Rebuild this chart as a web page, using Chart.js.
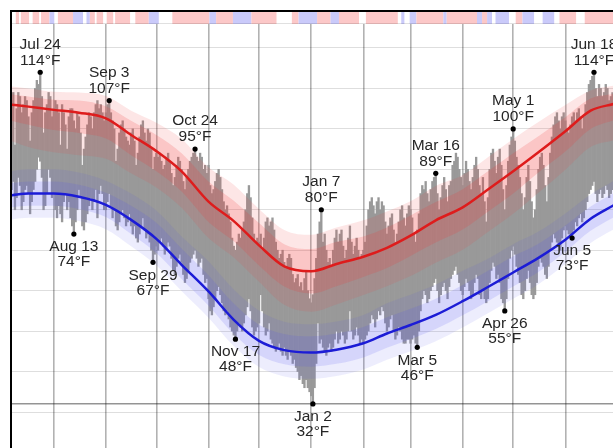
<!DOCTYPE html>
<html>
<head>
<meta charset="utf-8">
<script src="https://cdn.jsdelivr.net/npm/chart.js@4.4.1/dist/chart.umd.min.js"></script>
<style>
  html, body { margin: 0; padding: 0; background: #fff; overflow: hidden; }
  canvas { display: block; }
</style>
</head>
<body>
<canvas id="c" width="613" height="448"></canvas>
<script>
// Day numbers count from Jul 1 (day 0); the observed series starts on Jul 7.
const FIRST_DAY = 6;
const BASE_DATE = [2021, 6, 1];
const monthNames = ['Jan','Feb','Mar','Apr','May','Jun','Jul','Aug','Sep','Oct','Nov','Dec'];

// Daily observed highs (°F), Jul 7 .. Jun 29, one line per month
const dailyHigh = [
  107,109,96,105,109,108,104,106,108,107,103,97,104,107,110,112,111,114,108,99,104,106,109,108,103,
  105,107,106,104,96,106,104,101,95,103,105,105,102,100,104,103,99,91,95,98,101,104,103,100,104,106,107,105,106,104,102,
  104,106,107,104,102,100,92,95,99,101,102,100,98,97,96,99,100,97,91,94,98,101,102,99,97,100,99,95,90,93,
  94,93,94,92,90,91,93,94,92,89,86,88,91,93,92,90,87,85,88,90,92,93,94,95,93,92,94,93,90,91,89,
  91,86,84,85,87,89,90,88,85,82,80,81,79,77,73,71,70,72,74,73,75,77,80,84,86,83,78,74,72,73,
  72,74,70,73,77,78,76,77,78,75,72,70,68,69,70,67,66,68,69,68,64,62,63,64,61,62,60,63,65,60,58,
  57,59,63,68,74,77,80,72,74,70,67,68,66,70,73,75,72,74,75,71,68,70,73,76,72,69,71,73,70,68,69,
  70,72,76,80,82,83,81,79,82,83,80,82,81,77,74,76,78,79,75,72,74,77,80,81,78,76,79,81,
  80,78,74,72,75,79,84,86,85,87,84,82,85,87,88,89,84,80,83,86,88,85,82,86,87,91,92,94,93,90,88,
  86,89,92,90,87,85,88,91,93,90,86,84,88,82,77,83,90,94,95,92,89,93,95,91,85,80,86,92,96,98,
  100,97,93,91,88,84,80,83,88,91,87,82,78,80,85,90,93,94,91,86,82,88,94,98,101,103,104,102,100,103,104,
  102,100,99,101,103,104,102,104,105,103,100,103,106,109,111,112,113,114,110,108,111,110,108,109,111,110,107,108,109
];

// Daily observed lows (°F), same days
const dailyLow = [
  85,87,80,83,88,86,80,82,85,86,84,79,82,85,87,90,93,92,88,80,81,84,90,88,83,
  84,80,78,81,79,77,82,84,80,82,78,76,74,77,80,85,83,76,75,77,79,81,83,80,82,85,78,84,86,84,80,
  80,82,84,81,78,80,76,75,77,79,80,78,76,77,79,76,74,76,73,72,74,76,78,75,73,74,72,70,67,69,
  71,70,72,73,71,69,70,72,71,68,65,64,66,68,69,67,64,62,63,65,67,68,69,70,68,66,67,68,64,62,63,
  58,55,54,56,58,60,61,59,57,55,54,55,53,51,50,49,48,50,52,51,50,52,54,56,58,55,51,49,50,51,
  52,59,55,51,49,50,52,48,47,46,45,46,47,45,44,46,44,43,45,44,42,43,41,40,38,39,37,36,38,36,35,
  34,32,36,42,52,47,48,46,45,44,46,47,45,46,48,50,47,48,50,49,47,48,50,55,50,48,49,51,49,47,48,
  47,48,49,50,52,54,53,51,53,55,54,56,55,52,50,51,53,54,50,48,49,51,50,48,47,47,48,48,
  47,48,49,47,46,50,55,58,60,59,57,58,60,61,62,63,60,57,59,61,62,60,58,61,63,64,65,66,64,62,60,
  59,61,63,62,60,58,59,62,64,63,59,58,60,58,57,58,62,65,67,66,63,64,62,58,57,55,58,63,68,70,
  71,69,66,64,62,59,58,60,63,65,62,59,58,59,62,66,68,67,66,64,63,66,70,72,74,73,72,71,70,73,75,
  76,75,74,74,73,75,77,76,78,79,77,78,80,82,84,85,86,87,84,82,84,85,83,84,86,85,83,84,85
];

// Climate normals, sampled about twice a month
const normDays   = [6,16,31,46,62,77,92,107,123,138,153,168,184,199,215,229,243,258,274,289,304,319,335,350,364];
const highAvg    = [106,105.5,104.7,104,102.6,98.5,94.5,89.5,82,77.2,71.2,66,64.8,66.6,68.4,70.6,73.6,77.4,80.6,85,89.5,94.2,99.4,104.5,106.2];
const highP90    = [110.5,110,109.2,109,108.1,104.5,101.5,97.5,90.5,86.2,80.2,75,73.8,75.6,77.4,79.6,82.1,85.9,88.6,93,97.5,101.7,105.9,109.5,110.7];
const highP75    = [108.5,108,107.2,107,105.6,102,98.5,94,87,82.2,76.7,71.5,70.3,72.1,73.4,75.6,78.6,81.9,85.1,89.5,94,98.2,102.9,107.5,108.7];
const highP25    = [102,101,99.7,99,97.6,93.5,89.5,84.5,77,72.2,66.2,61,59.3,61.1,63.4,65.6,68.6,71.9,75.1,79.5,84,89.2,94.4,100,102.2];
const highP10    = [97,95.5,94.2,93.5,92.6,89,85.5,80.5,73,68.2,62.2,56.5,54.8,56.6,58.9,61.1,63.6,66.9,70.1,74.5,79,84.2,89.9,95.5,97.2];
const lowAvg     = [83.6,84,84,83.2,81.2,77.5,72.8,66.4,59.8,52.8,47.6,45.3,44.7,45.4,47,49.4,51.5,54,57.4,60.9,64.5,68.1,72.6,77.8,81.2];
const lowP90     = [89.6,90,90,89.2,87.2,84,79.8,73.4,67.3,60.3,55.1,52.3,51.7,52.4,54,56.9,59,61.5,64.9,67.9,71.5,74.6,79.1,83.8,87.2];
const lowP75     = [86.6,87,87,86.2,84.2,81,76.8,70.4,63.8,56.8,51.6,49.3,48.7,49.4,51,53.4,55.5,58,61.4,64.9,68.5,71.6,76.1,80.8,84.2];
const lowP25     = [80.6,81,81,80.2,78.2,74,69.3,62.9,56.3,49.3,44.1,41.8,41.2,41.9,43.5,45.9,48,50.5,53.9,57.4,61,64.6,69.6,74.8,78.2];
const lowP10     = [77.6,78,78,77.2,75.2,71,66.3,59.9,53.3,46.3,41.1,38.8,38.2,38.9,40.5,42.9,45,47.5,50.9,54.4,58,61.6,66.6,71.8,75.2];

// Annotated extremes: day number and which end of the daily bar
const markedHighs = [23, 64, 115, 190, 258, 304, 352];
const markedLows  = [43, 90, 139, 185, 247, 299, 339];

// First day of each month (vertical grid) and temperature grid
const monthStarts = [31, 62, 92, 123, 153, 184, 215, 243, 274, 304, 335];
const tempTicks = [30, 40, 50, 60, 70, 80, 90, 100, 110, 120];
const FREEZING = 32;

// Daily anomaly strip: [firstDay, lastDay, 'r' warm | 'b' cool | 'w' near normal]
const stripRuns = [
  [6,8,'w'],[9,10,'r'],[11,11,'w'],[12,16,'r'],[17,18,'w'],[19,22,'r'],[23,23,'w'],[24,28,'r'],
  [29,31,'b'],[32,33,'w'],[34,42,'r'],[43,48,'b'],[49,50,'w'],[51,52,'b'],[53,55,'r'],[56,56,'w'],
  [57,60,'r'],[61,62,'w'],[63,66,'r'],[67,67,'w'],[68,76,'r'],[77,79,'w'],[80,87,'r'],[88,93,'b'],
  [94,101,'w'],[102,123,'r'],[124,127,'b'],[128,137,'r'],[138,148,'b'],[149,163,'r'],[164,172,'w'],
  [173,176,'r'],[177,187,'b'],[188,195,'r'],[196,200,'b'],[201,212,'r'],[213,216,'w'],[217,235,'r'],
  [236,237,'w'],[238,239,'b'],[240,242,'w'],[243,246,'b'],[247,262,'r'],[263,264,'b'],[265,282,'r'],
  [283,285,'b'],[286,288,'r'],[289,291,'b'],[292,293,'w'],[294,301,'b'],[302,305,'w'],[306,309,'r'],
  [310,316,'b'],[317,321,'w'],[322,328,'b'],[329,331,'w'],[332,341,'r'],[342,346,'w'],[347,363,'r']
];

const stripColors = { r: '#fcc8c8', b: '#cacafa', w: '#ffffff' };

function dayLabel(d) {
  const dt = new Date(BASE_DATE[0], BASE_DATE[1], BASE_DATE[2] + d);
  return monthNames[dt.getMonth()] + ' ' + dt.getDate();
}
const pts = (days, vals) => days.map((d, i) => ({ x: d, y: vals[i] }));

const rangeBars = dailyHigh.map((h, i) => ({ x: FIRST_DAY + i, y: [dailyLow[i], h] }));
const marks = markedHighs.map(d => ({ day: d, v: dailyHigh[d - FIRST_DAY], hi: true }))
  .concat(markedLows.map(d => ({ day: d, v: dailyLow[d - FIRST_DAY], hi: false })));

// Percentile band edge: invisible line, optionally filled down to another edge
const bandLine = (data, fillTarget, color, order) => ({
  type: 'line', data, order, borderWidth: 0, borderColor: 'rgba(0,0,0,0)', pointRadius: 0,
  cubicInterpolationMode: 'monotone',
  fill: fillTarget === null ? false : { target: fillTarget },
  backgroundColor: color
});

const frame = {
  id: 'frame',
  afterDraw(chart) {
    const ctx = chart.ctx, xs = chart.scales.x, ys = chart.scales.y, area = chart.chartArea;
    ctx.save();
    // anomaly strip above the plot
    stripRuns.forEach(([a, b, k]) => {
      const x0 = Math.max(area.left, xs.getPixelForValue(a - 0.5));
      const x1 = Math.min(area.right, xs.getPixelForValue(b + 0.5));
      ctx.fillStyle = stripColors[k];
      ctx.fillRect(x0, 12, x1 - x0, area.top - 12);
    });
    ctx.fillStyle = 'rgba(0,0,0,0.12)';
    ctx.fillRect(area.left, area.top - 1, area.right - area.left, 1);
    // frame lines
    ctx.fillStyle = '#000';
    ctx.fillRect(10, 10, chart.width - 10, 2);
    ctx.fillRect(10, 10, 2, chart.height - 10);
    // extreme labels
    ctx.font = '15.5px "Liberation Sans", Arial, sans-serif';
    ctx.fillStyle = '#262626';
    ctx.textAlign = 'center';
    ctx.textBaseline = 'middle';
    marks.forEach(m => {
      const px = xs.getPixelForValue(m.day), py = ys.getPixelForValue(m.v);
      const l1 = dayLabel(m.day), l2 = m.v + '°F';
      if (m.hi) {
        ctx.fillText(l1, px, py - 28);
        ctx.fillText(l2, px, py - 12);
      } else {
        ctx.fillText(l1, px, py + 13);
        ctx.fillText(l2, px, py + 28);
      }
    });
    ctx.restore();
  }
};

new Chart(document.getElementById('c'), {
  type: 'bar',
  data: {
    datasets: [
      { type: 'bar', data: rangeBars, order: 30, backgroundColor: '#999999', borderWidth: 0,
        barPercentage: 1, categoryPercentage: 1 },
      bandLine(pts(normDays, highP90), 2, 'rgba(240,60,60,0.13)', 20),
      bandLine(pts(normDays, highP10), null, 'rgba(0,0,0,0)', 20),
      bandLine(pts(normDays, highP75), 4, 'rgba(240,60,60,0.19)', 19),
      bandLine(pts(normDays, highP25), null, 'rgba(0,0,0,0)', 19),
      bandLine(pts(normDays, lowP90), 6, 'rgba(80,80,240,0.10)', 20),
      bandLine(pts(normDays, lowP10), null, 'rgba(0,0,0,0)', 20),
      bandLine(pts(normDays, lowP75), 8, 'rgba(80,80,240,0.15)', 19),
      bandLine(pts(normDays, lowP25), null, 'rgba(0,0,0,0)', 19),
      { type: 'line', data: pts(normDays, highAvg), order: 3, borderColor: '#de1c1c', borderWidth: 2.5,
        pointRadius: 0, cubicInterpolationMode: 'monotone', fill: false },
      { type: 'line', data: pts(normDays, lowAvg), order: 3, borderColor: '#1c1cd6', borderWidth: 2.5,
        pointRadius: 0, cubicInterpolationMode: 'monotone', fill: false },
      { type: 'scatter', data: marks.map(m => ({ x: m.day, y: m.v })), order: 1, clip: false,
        pointRadius: 2.6, pointBackgroundColor: '#000', pointBorderWidth: 0 }
    ]
  },
  options: {
    responsive: false,
    devicePixelRatio: 1,
    animation: false,
    layout: { autoPadding: false, padding: { top: 24, left: 12, right: 0, bottom: 0 } },
    plugins: { legend: { display: false }, tooltip: { enabled: false } },
    scales: {
      x: {
        type: 'linear', min: 6.24, max: 363.3, offset: false, z: 1,
        afterBuildTicks: s => { s.ticks = monthStarts.map(v => ({ value: v })); },
        ticks: { display: false },
        border: { display: false },
        grid: { offset: false, drawTicks: false, color: 'rgba(0,0,0,0.3)', lineWidth: 1.6 }
      },
      y: {
        type: 'linear', min: 21.1, max: 125.93, z: 1,
        afterBuildTicks: s => { s.ticks = tempTicks.concat([FREEZING]).sort((a, b) => a - b).map(v => ({ value: v })); },
        ticks: { display: false },
        border: { display: false },
        grid: {
          drawTicks: false,
          color: c => (c.tick && c.tick.value === FREEZING) ? 'rgba(0,0,0,0.42)' : 'rgba(0,0,0,0.13)',
          lineWidth: c => (c.tick && c.tick.value === FREEZING) ? 1.6 : 1
        }
      }
    }
  },
  plugins: [frame]
});
</script>
</body>
</html>
